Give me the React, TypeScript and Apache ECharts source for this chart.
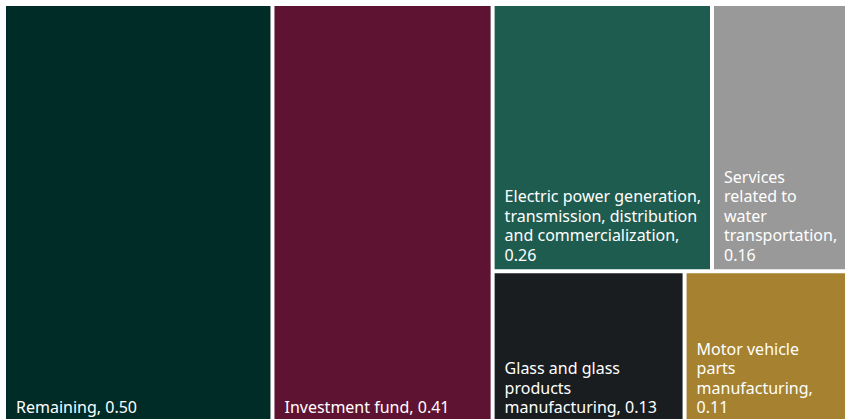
import React, { useEffect, useRef } from "react";
import * as echarts from "echarts";

const categories = [
  "Remaining",
  "Investment fund",
  "Electric power generation, transmission, distribution and commercialization",
  "Services related to water transportation",
  "Glass and glass products manufacturing",
  "Motor vehicle parts manufacturing",
];
const values = [0.5, 0.41, 0.26, 0.16, 0.13, 0.11];
const colors = ["#002c28", "#5f1333", "#1f5c50", "#999999", "#1a1d20", "#a6812f"];

const FONT_SIZE = 16;
const FONT_FAMILY = "Noto Sans";

function wrapWords(text: string, maxW: number): string {
  const canvas = document.createElement("canvas");
  const ctx = canvas.getContext("2d");
  if (!ctx) return text;
  ctx.font = `${FONT_SIZE}px "${FONT_FAMILY}"`;
  const words = text.split(" ");
  const lines: string[] = [];
  let cur = "";
  for (const w of words) {
    const test = cur ? cur + " " + w : w;
    if (!cur || ctx.measureText(test).width <= maxW) {
      cur = test;
    } else {
      lines.push(cur);
      cur = w;
    }
  }
  if (cur) lines.push(cur);
  return lines.join("\n");
}

export default function App() {
  const ref = useRef<HTMLDivElement>(null);
  useEffect(() => {
    if (!ref.current) return;
    const chart = echarts.init(ref.current, null, { renderer: "svg" });
    const labelText = (i: number) => `${categories[i]}, ${values[i].toFixed(2)}`;
    const build = (texts: string[] | null) => ({
      animation: false,
      series: [
        {
          type: "treemap",
          left: 6,
          top: 6,
          width: 839,
          height: 416,
          roam: false,
          nodeClick: false,
          breadcrumb: { show: false },
          squareRatio: 1,
          levels: [
            { itemStyle: { gapWidth: 4, borderWidth: 0, borderColor: "#ffffff" } },
          ],
          label: {
            show: true,
            position: "insideBottomLeft",
            distance: 0,
            padding: [0, 4, 5, 10],
            color: "#ffffff",
            fontFamily: FONT_FAMILY,
            fontSize: FONT_SIZE,
            lineHeight: 19.5,
            overflow: texts ? "none" : "break",
            formatter: (p: any) => `${p.name}, ${Number(p.value).toFixed(2)}`,
          },
          itemStyle: { borderWidth: 0 },
          data: categories.map((name, i) => ({
            name,
            value: values[i],
            itemStyle: { color: colors[i] },
            ...(texts ? { label: { formatter: texts[i] } } : {}),
          })),
        },
      ],
    });
    chart.setOption(build(null));
    try {
      const seriesModel = (chart as any).getModel().getSeriesByIndex(0);
      const root = seriesModel.getData().tree.root;
      const widths: Record<string, number> = {};
      root.children.forEach((n: any) => {
        const lay = n.getLayout();
        widths[n.name] = lay ? lay.width : 0;
      });
      const texts = categories.map((c, i) => wrapWords(labelText(i), (widths[c] || 0) - 17));
      chart.setOption(build(texts), true);
    } catch (e) {
      // keep automatic wrapping
    }
    return () => chart.dispose();
  }, []);
  return (
    <div
      ref={ref}
      style={{ position: "absolute", left: 0, top: 0, width: 848, height: 419 }}
    />
  );
}
